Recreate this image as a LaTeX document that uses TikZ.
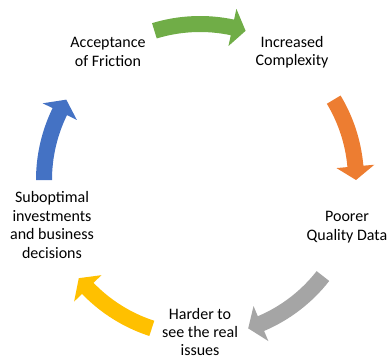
\documentclass[tikz,border=0pt]{standalone}
\usepackage{fontspec}
\setmainfont{Carlito}
\usepackage{tikz}
\usetikzlibrary{positioning}

\definecolor{arrowgreen}{HTML}{70AD47}
\definecolor{arroworange}{HTML}{ED7D31}
\definecolor{arrowgray}{HTML}{A5A5A5}
\definecolor{arrowyellow}{HTML}{FFC000}
\definecolor{arrowblue}{HTML}{4472C4}

% curved block arrow round (c), clockwise from angle #2 to tip angle #3
\newcommand\cyclearrow[3]{%
  \pgfmathsetmacro\headang{#3+5}%
  \fill[#1,shift={(c)}]
    (#2:164) arc[start angle=#2,end angle=\headang,radius=164]
    -- (\headang:175) -- (#3:156) -- (\headang:137)
    -- (\headang:148) arc[start angle=\headang,end angle=#2,radius=148] -- cycle;
}

\begin{document}
\begin{tikzpicture}[x=0.75pt,y=0.75pt,
  stage/.style={align=center,font=\fontsize{12}{13.8}\selectfont,inner sep=0pt}]
  \useasboundingbox (0,0) rectangle (390,358);
  \coordinate (c) at (200,178);

  \node[stage] (friction)   at (108,306) {Acceptance\\of Friction};
  \node[stage] (complexity) at (292,306) {Increased\\Complexity};
  \node[stage] (quality)    at (347,131) {Poorer\\Quality Data};
  \node[stage] (issues)     at (200,26)  {Harder to\\see the real\\issues};
  \node[stage] (decisions)  at (52,133)  {Suboptimal\\investments\\and business\\decisions};

  \cyclearrow{arrowgreen}{107}{73}
  \cyclearrow{arroworange}{31}{0}
  \cyclearrow{arrowgray}{-38}{-72}
  \cyclearrow{arrowyellow}{-108}{-141}
  \cyclearrow{arrowblue}{180}{149}
\end{tikzpicture}
\end{document}
